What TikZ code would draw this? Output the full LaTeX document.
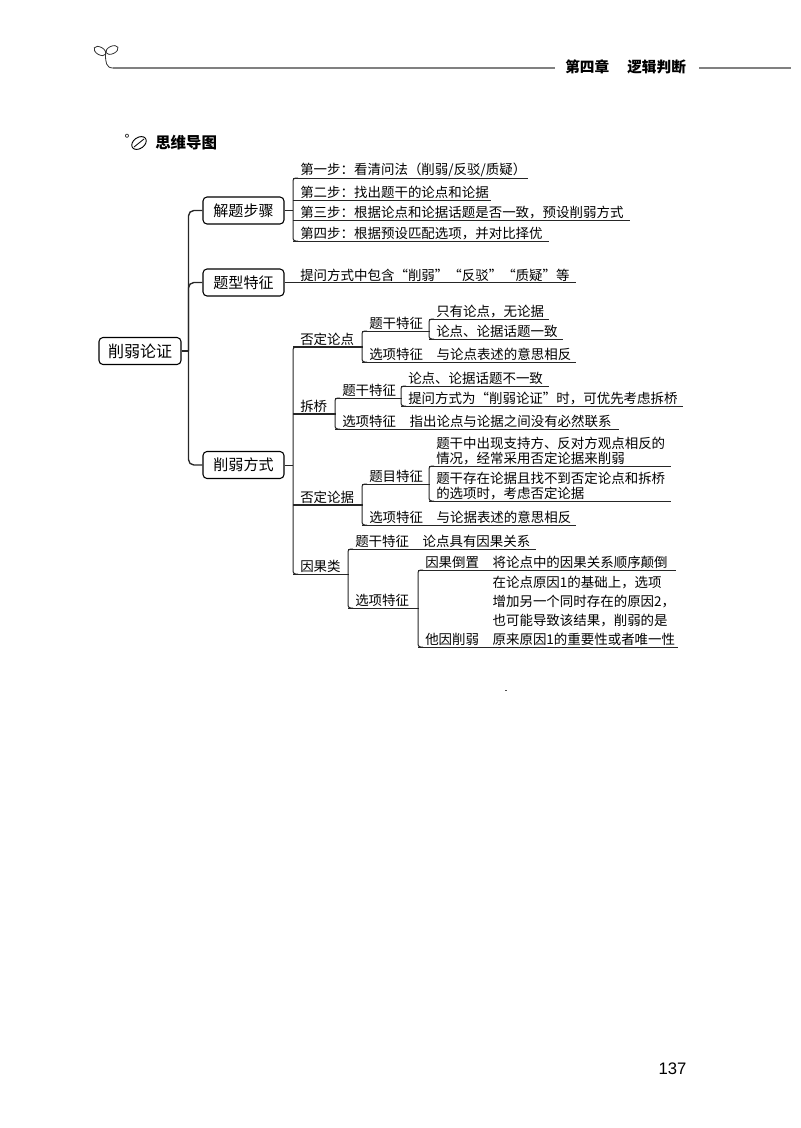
\documentclass[tikz,border=0pt]{standalone}
\usepackage{fontspec}
\setmainfont{Noto Sans CJK SC}
\newfontfamily\numfont{Liberation Sans}
\newcommand{\bracket}[2]{\draw[wire, rounded corners=2pt] (#1.south west) ++(5,0) -- ++(-5,0) -- (#2.south west) -- ++(5,0);}
\newcommand{\gap}{\nobreak\hspace*{1em}\nobreak}

\begin{document}
\begin{tikzpicture}[x=0.75pt, y=-0.75pt,
	wire/.style={line width=0.75pt, black!85},
	headline/.style={line width=0.8pt, black!50},
	topic/.style={draw, line width=0.8pt, rounded corners=3pt, minimum width=81*0.75pt, minimum height=27*0.75pt, inner sep=0pt, font=\fontsize{11.3}{13}\selectfont},
	leaf/.style={anchor=south west, inner xsep=7*0.75pt, inner ysep=0.6pt, text width=(#1-14)*0.75pt, align=left, font=\fontsize{10.1}{11.3}\selectfont}]
	\useasboundingbox (0,0) rectangle (800,1128);

	% page head
	\draw[black!80, line width=0.6pt, rotate around={-30:(100,51)}] (100,51) ellipse[x radius=6.5, y radius=3.8];
	\draw[black!80, line width=0.6pt, rotate around={25:(112,50)}] (112,50) ellipse[x radius=6.5, y radius=3.8];
	\draw[black!80, line width=0.6pt] (105.5,54) .. controls (105.5,62) and (106,68) .. (113,68);
	\draw[headline] (113,68) -- (555,68);
	\node[anchor=west, inner sep=0pt, font=\fontsize{11}{12}\selectfont\bfseries] (chap) at (565,67) {第四章};
	\node[anchor=west, inner sep=0pt, font=\fontsize{11}{12}\selectfont\bfseries] (sect) at (627,67) {逻辑判断};
	\draw[headline] (699,68) -- (791,68);

	% title
	\node[inner sep=0pt, font=\fontsize{10}{11}\selectfont] (deg) at (127,139) {°};
	\draw[line width=0.7pt, rotate around={35:(139,143)}] (139,143) ellipse[x radius=8, y radius=5.5];
	\draw[line width=0.6pt] (134,147) -- (144,139);
	\node[anchor=west, inner sep=0pt, font=\fontsize{11.6}{13}\selectfont\bfseries] (title) at (155,143) {思维导图};

	% centre and topics
	\node[topic, minimum width=82*0.75pt, font=\fontsize{12}{14}\selectfont] (root) at (140,351) {削弱论证};
	\node[topic] (jt) at (243.5,210.5) {解题步骤};
	\node[topic] (tx) at (243.5,282.5) {题型特征};
	\node[topic] (xr) at (243.5,465) {削弱方式};
	\coordinate (rt) at (188.5,351);
	\draw[wire, line width=1pt, rounded corners=4pt] (jt.west) -| (rt) |- (xr.west);
	\draw[wire, line width=1pt, rounded corners=4pt] (tx.west) -| (rt);
	\draw[wire, line width=1pt] (root.east) -- (rt);

	% steps
	\node[leaf=234] (s1) at (293,178) {第一步：看清问法（削弱/反驳/质疑）};
	\node[leaf=197] (s2) at (293,200) {第二步：找出题干的论点和论据};
	\node[leaf=336] (s3) at (293,220) {第三步：根据论点和论据话题是否一致，预设削弱方式};
	\node[leaf=255] (s4) at (293,241) {第四步：根据预设匹配选项，并对比择优};
	\draw[wire] (jt.east) -- (jt.east -| s1.south west);
	\bracket{s1}{s4}

	% question type
	\node[leaf=282] (t1) at (293,282.5) {提问方式中包含“削弱”“反驳”“质疑”等};
	\draw[wire] (tx.east) -- (t1.south west);

	% ways of weakening
	\node[leaf=69] (a1) at (293,347) {否定论点};
	\node[leaf=67] (a2) at (362,331) {题干特征};
	\node[leaf=213] (a3) at (362,362) {选项特征\gap 与论点表述的意思相反};
	\node[leaf=119] (a4) at (429,319) {只有论点，无论据};
	\node[leaf=133] (a5) at (429,339) {论点、论据话题一致};

	\node[leaf=42] (b1) at (293,414) {拆桥};
	\node[leaf=66] (b2) at (335,398) {题干特征};
	\node[leaf=283] (b3) at (335,429) {选项特征\gap 指出论点与论据之间没有必然联系};
	\node[leaf=147] (b4) at (401,386) {论点、论据话题不一致};
	\node[leaf=281] (b5) at (401,406) {提问方式为“削弱论证”时，可优先考虑拆桥};

	\node[leaf=69] (c1) at (293,505) {否定论据};
	\node[leaf=67] (c2) at (362,484) {题目特征};
	\node[leaf=213] (c3) at (362,525) {选项特征\gap 与论据表述的意思相反};
	\node[leaf=241] (c4) at (429,466) {题干中出现支持方、反对方观点相反的\\情况，经常采用否定论据来削弱};
	\node[leaf=241] (c5) at (429,501) {题干存在论据且找不到否定论点和拆桥\\的选项时，考虑否定论据};

	\node[leaf=55] (d1) at (293,574) {因果类};
	\node[leaf=187] (d2) at (348,549) {题干特征\gap 论点具有因果关系};
	\node[leaf=70] (d3) at (348,608) {选项特征};
	\node[leaf=257] (d4) at (418,570) {因果倒置\gap 将论点中的因果关系顺序颠倒};
	\node[leaf=259, font=\fontsize{10.1}{14.3}\selectfont] (d5) at (418,647) {\hspace*{5em}在论点原因1的基础上，选项\\\hspace*{5em}增加另一个同时存在的原因2，\\\hspace*{5em}也可能导致该结果，削弱的是\\他因削弱\gap 原来原因1的重要性或者唯一性};

	\foreach \n in {s1,s2,s3,s4,t1,a2,a3,a4,a5,b2,b3,b4,b5,c2,c3,c4,c5,d1,d2,d3,d4,d5} {
		\draw[wire] (\n.south west) -- (\n.south east);
	}
	\foreach \n in {a1,b1,c1} {
		\draw[wire, line width=1pt] (\n.south west) -- (\n.south east);
	}
	\draw[wire] (xr.east) -- (xr.east -| a1.south west);
	\bracket{a1}{d1}
	\bracket{a2}{a3}
	\bracket{a4}{a5}
	\bracket{b2}{b3}
	\bracket{b4}{b5}
	\bracket{c2}{c3}
	\bracket{c4}{c5}
	\bracket{d2}{d3}
	\bracket{d4}{d5}

	% page number
	\node[inner sep=0pt, font=\numfont\fontsize{12.5}{14}\selectfont] (page) at (672.5,1069) {137};
	\fill[black!70] (505,690) rectangle (507,691);
\end{tikzpicture}
\end{document}
